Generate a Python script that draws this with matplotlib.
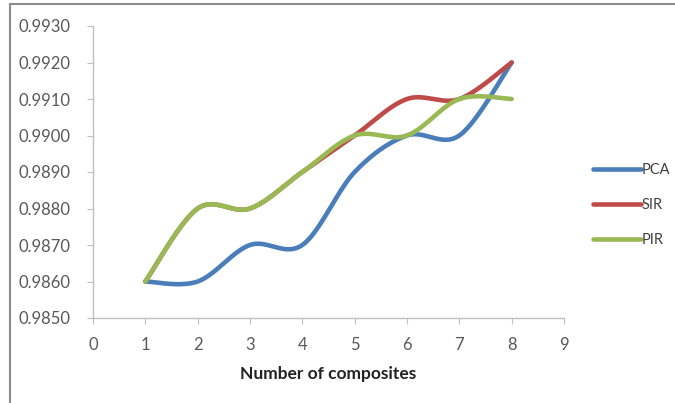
import numpy as np
import matplotlib
matplotlib.use("Agg")
import matplotlib.pyplot as plt
from matplotlib.patches import Rectangle

plt.rcParams['font.family'] = ['Lato', 'DejaVu Sans']

composites = [1, 2, 3, 4, 5, 6, 7, 8]
pca = [0.9860, 0.9860, 0.9870, 0.9870, 0.9890, 0.9900, 0.9900, 0.9920]
sir = [0.9860, 0.9880, 0.9880, 0.9890, 0.9900, 0.9910, 0.9910, 0.9920]
pir = [0.9860, 0.9880, 0.9880, 0.9890, 0.9900, 0.9900, 0.9910, 0.9910]

series = [("PCA", pca, "#4A7EBB"), ("SIR", sir, "#BE4B48"), ("PIR", pir, "#98B954")]

x_ticks = list(range(0, 10))
y_ticks = [0.9850, 0.9860, 0.9870, 0.9880, 0.9890, 0.9900, 0.9910, 0.9920, 0.9930]


def smooth(xs, ys, n=40):
    """Catmull-Rom style Bezier smoothing through every point."""
    p = np.column_stack([xs, ys]).astype(float)
    pts = np.vstack([p[0], p, p[-1]])
    t = np.linspace(0, 1, n)[:, None]
    out = []
    for i in range(1, len(pts) - 2):
        p0, p1, p2, p3 = pts[i - 1], pts[i], pts[i + 1], pts[i + 2]
        c1 = p1 + (p2 - p0) / 6.0
        c2 = p2 - (p3 - p1) / 6.0
        seg = ((1 - t) ** 3) * p1 + 3 * ((1 - t) ** 2) * t * c1 \
            + 3 * (1 - t) * t ** 2 * c2 + t ** 3 * p2
        out.append(seg if i == 1 else seg[1:])
    out = np.vstack(out)
    return out[:, 0], out[:, 1]


fig = plt.figure(figsize=(6.75, 4.03), dpi=100)
fig.patches.append(Rectangle((10 / 675, -0.02), 1.0, 1 - 4 / 403 + 0.02,
                             transform=fig.transFigure, fill=False,
                             edgecolor="#8C8C8C", linewidth=1.5))

ax = fig.add_axes([93 / 675, 1 - 318 / 403, (564 - 93) / 675, (318 - 26) / 403])

for name, vals, color in series:
    sx, sy = smooth(composites, vals)
    ax.plot(sx, sy, color=color, linewidth=3.3, label=name,
            solid_capstyle="round")

ax.set_xlim(0, 9)
ax.set_ylim(0.9850, 0.9930)
ax.set_xticks(x_ticks)
ax.set_yticks(y_ticks)
ax.set_yticklabels([f"{v:.4f}" for v in y_ticks])

for side in ("top", "right"):
    ax.spines[side].set_visible(False)
for side in ("left", "bottom"):
    ax.spines[side].set_color("#BFBFBF")
    ax.spines[side].set_linewidth(1.0)
ax.tick_params(axis="both", direction="out", length=4, color="#BFBFBF",
               labelcolor="#595959", labelsize=12)
ax.tick_params(axis="x", pad=10)
ax.tick_params(axis="y", pad=12)

ax.set_xlabel("Number of composites", fontsize=12.5, fontweight="bold",
              color="#222222", labelpad=9)

leg = fig.legend(loc="center left", bbox_to_anchor=(580 / 675, 1 - 205 / 403),
                 frameon=False, fontsize=10.5, handlelength=3.3,
                 handletextpad=0.05, labelspacing=1.45, labelcolor="#404040")
for line in leg.get_lines():
    line.set_linewidth(3.3)

fig.savefig("out.png", dpi=100)
